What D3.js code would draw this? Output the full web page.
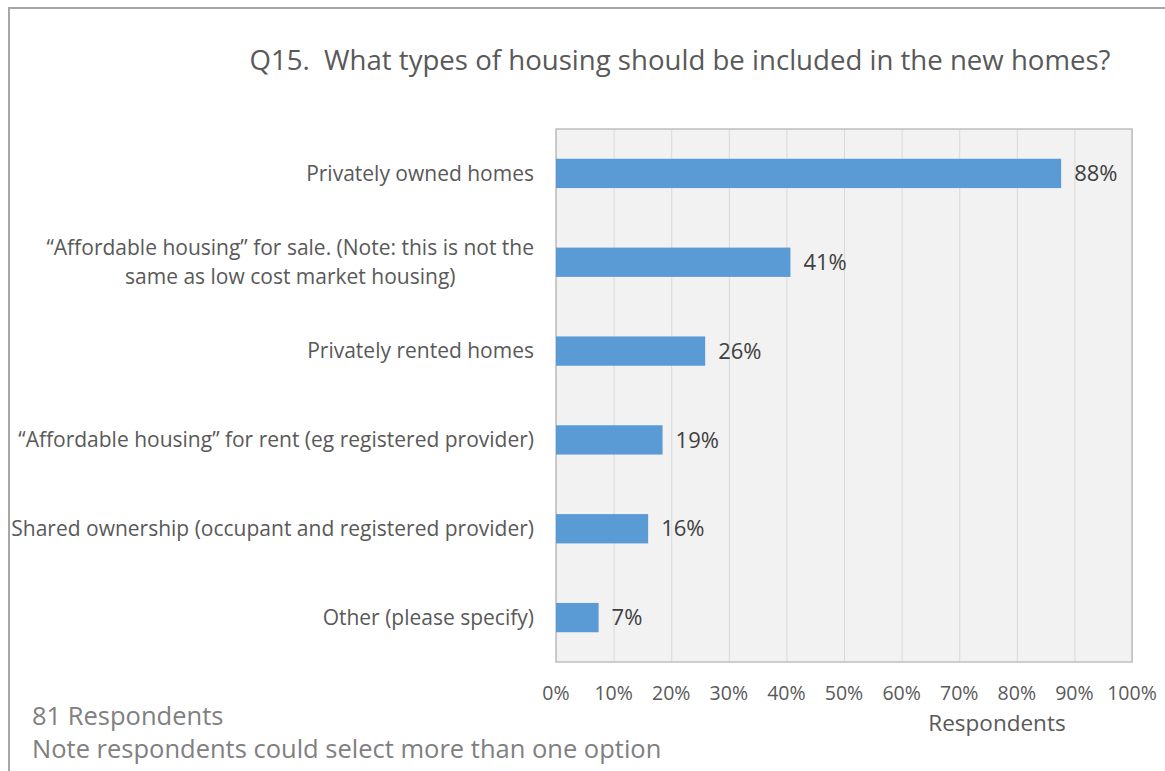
<!DOCTYPE html>
<html>
<head>
<meta charset="utf-8">
<script src="https://cdn.jsdelivr.net/npm/d3@7"></script>
<style>
  body { margin: 0; background: #fff; }
  text { font-family: "Open Sans", sans-serif; white-space: pre; }
</style>
</head>
<body>
<div class="chart"></div>
<script>
// chart data
var categories = [
      'Privately owned homes'
    , ['\u201cAffordable housing\u201d for sale. (Note: this is not the', 'same as low cost market housing)']
    , 'Privately rented homes'
    , '\u201cAffordable housing\u201d for rent (eg registered provider)'
    , 'Shared ownership (occupant and registered provider)'
    , 'Other (please specify)'
  ]
  , values = [87.7, 40.7, 25.9, 18.5, 16.0, 7.4]
  , valueLabels = ['88%', '41%', '26%', '19%', '16%', '7%']
  , xTicks = [0, 10, 20, 30, 40, 50, 60, 70, 80, 90, 100]
  , title = 'Q15.  What types of housing should be included in the new homes?'
  , axisTitle = 'Respondents'
  , notes = ['81 Respondents', 'Note respondents could select more than one option'];

var w = 1165
  , h = 771
  , plot = { left: 556, right: 1132, top: 129, bottom: 662 }
  , textColor = '#595959';

var svg = d3.select('.chart')
            .append('svg')
            .attr('width', w)
            .attr('height', h);

// outer chart frame (runs off the right / bottom edge)
svg.append('path')
    .attr('d', 'M9,' + (h + 5) + 'V8H' + (w + 5))
    .attr('fill', 'none')
    .attr('stroke', '#a6a6a6')
    .attr('stroke-width', 2);

var x = d3.scaleLinear()
          .domain([0, 100])
          .range([plot.left, plot.right]);

var y = d3.scaleBand()
          .domain(d3.range(categories.length))
          .range([plot.top, plot.bottom])
          .paddingInner(0.67)
          .paddingOuter(0.335);

// plot background
svg.append('rect')
    .attr('x', plot.left)
    .attr('y', plot.top)
    .attr('width', plot.right - plot.left)
    .attr('height', plot.bottom - plot.top)
    .attr('fill', '#f2f2f2');

// vertical gridlines
svg.append('g')
    .attr('transform', 'translate(0,' + plot.bottom + ')')
    .call(d3.axisBottom(x)
            .tickValues(xTicks)
            .tickSize(-(plot.bottom - plot.top))
            .tickFormat(''))
    .call(function (g) {
      g.select('.domain').remove();
      g.selectAll('line').attr('stroke', '#d9d9d9');
    });

// plot border
svg.append('rect')
    .attr('x', plot.left)
    .attr('y', plot.top)
    .attr('width', plot.right - plot.left)
    .attr('height', plot.bottom - plot.top)
    .attr('fill', 'none')
    .attr('stroke', '#bfbfbf')
    .attr('stroke-width', 1.5);

// bars
svg.selectAll('rect.bar')
    .data(values)
    .enter()
    .append('rect')
    .attr('class', 'bar')
    .attr('x', x(0))
    .attr('y', function (d, i) { return y(i); })
    .attr('width', function (d) { return x(d) - x(0); })
    .attr('height', y.bandwidth())
    .attr('fill', '#5b9bd5');

// data labels
svg.selectAll('text.val')
    .data(values)
    .enter()
    .append('text')
    .attr('class', 'val')
    .attr('x', function (d) { return x(d) + 13; })
    .attr('y', function (d, i) { return y(i) + y.bandwidth() / 2; })
    .attr('dy', '0.35em')
    .attr('font-size', 22)
    .attr('fill', '#404040')
    .text(function (d, i) { return valueLabels[i]; });

// category labels, multi-line ones centred on each other and right-aligned as a block
var catG = svg.selectAll('g.cat')
    .data(categories)
    .enter()
    .append('g')
    .attr('class', 'cat')
    .attr('transform', function (d, i) {
      return 'translate(0,' + (y(i) + y.bandwidth() / 2) + ')';
    });

catG.each(function (d) {
  var g = d3.select(this)
    , lines = Array.isArray(d) ? d : [d]
    , lineH = 29
    , t = g.append('text')
           .attr('font-size', 21)
           .attr('fill', textColor)
           .attr('text-anchor', 'middle');

  lines.forEach(function (line, k) {
    t.append('tspan')
        .attr('x', 0)
        .attr('y', (k - (lines.length - 1) / 2) * lineH)
        .attr('dy', '0.35em')
        .text(line);
  });

  var bb = t.node().getBBox();
  t.attr('transform', 'translate(' + (534 - bb.width / 2) + ',0)');
});

// x tick labels
svg.selectAll('text.tick')
    .data(xTicks)
    .enter()
    .append('text')
    .attr('class', 'tick')
    .attr('x', function (d) { return x(d); })
    .attr('y', 693)
    .attr('dy', '0.35em')
    .attr('text-anchor', 'middle')
    .attr('font-size', 19.5)
    .attr('fill', textColor)
    .text(function (d) { return d + '%'; });

// axis title
svg.append('text')
    .attr('x', 997)
    .attr('y', 723)
    .attr('dy', '0.35em')
    .attr('text-anchor', 'middle')
    .attr('font-size', 22.5)
    .attr('fill', textColor)
    .text(axisTitle);

// chart title
svg.append('text')
    .attr('x', 680)
    .attr('y', 60)
    .attr('dy', '0.35em')
    .attr('text-anchor', 'middle')
    .attr('font-size', 27.6)
    .attr('fill', textColor)
    .text(title);

// footnotes
svg.selectAll('text.note')
    .data(notes)
    .enter()
    .append('text')
    .attr('class', 'note')
    .attr('x', 32)
    .attr('y', function (d, i) { return 716 + i * 33; })
    .attr('dy', '0.35em')
    .attr('font-size', 25.5)
    .attr('fill', '#808080')
    .text(function (d) { return d; });
</script>
</body>
</html>
